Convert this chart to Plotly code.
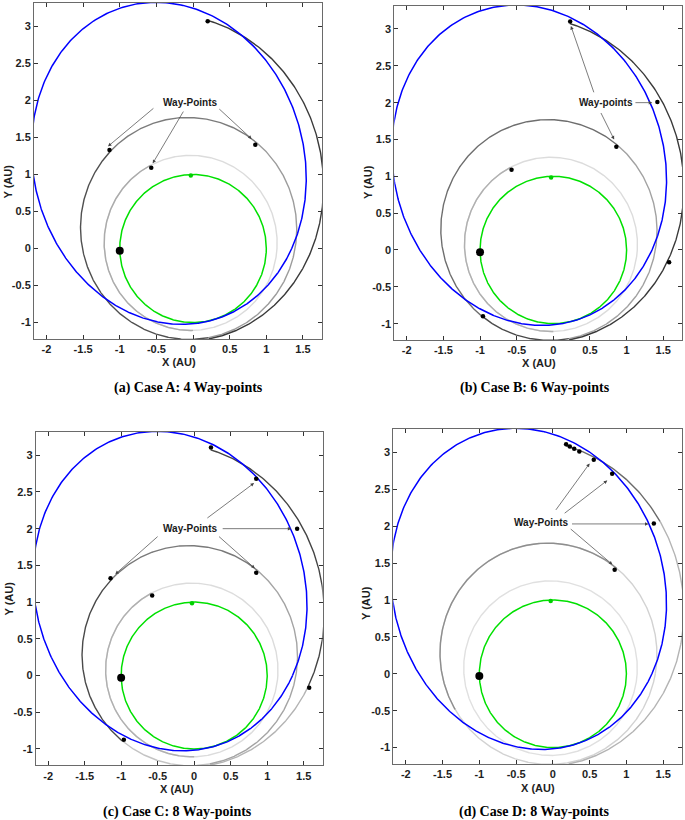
import numpy as np
import plotly.graph_objects as go

# ---------------- data ----------------
# Kepler orbits (Sun at the focus, origin): semi-major axis [AU], eccentricity, perihelion angle [deg]
ORBIT_NAMES = ["earth", "target", "r1", "r2", "r3"]
ORBIT_A = [1.0, 2.20, 1.183, 1.50, 2.215]
ORBIT_E = [0.0, 0.544, 0.07, 0.185, 0.44]
ORBIT_W = [0.0, -74.0, -67.0, -77.5, -77.0]

# trajectory arcs per case: orbit, polar angle from / to [deg]
ARC_ORBIT_A = ["r1", "r1", "r2", "r2", "r2", "r3"]
ARC_FROM_A = [0, 117.6, -80, 58.7, 130.8, -80]
ARC_TO_A = [360, 270, 58.7, 130.8, 280, 86.3]

ARC_ORBIT_B = ["r1", "r1", "r2", "r2", "r2", "r3"]
ARC_FROM_B = [0, 117.6, -80, 58.7, 222.2, -80]
ARC_TO_B = [360, 270, 58.7, 222.2, 280, 85.8]

ARC_ORBIT_C = ["r1", "r1", "r2", "r2", "r2", "r2", "r3", "r3"]
ARC_FROM_C = [0, 117.6, -80, 58.7, 130.8, 222.2, -80, -5.8]
ARC_TO_C = [360, 270, 58.7, 130.8, 222.2, 280, -5.8, 85.8]

ARC_ORBIT_D = ["r1", "r2", "r2", "r3", "r3"]
ARC_FROM_D = [0, 0, 58.7, -80, 54.8]
ARC_TO_D = [360, 360, 200, 54.8, 86.7]

# way-points (x, y in AU)
WP_A_X = [-0.57, 0.85, -1.14, 0.20]
WP_A_Y = [1.09, 1.40, 1.33, 3.07]
WP_B_X = [-0.57, 0.86, 1.42, 0.23, -0.96, 1.58]
WP_B_Y = [1.09, 1.40, 2.01, 3.10, -0.90, -0.165]
WP_C_X = [0.23, 0.85, 1.41, 0.85, -1.145, -0.575, -0.963, 1.575]
WP_C_Y = [3.105, 2.68, 2.00, 1.40, 1.325, 1.09, -0.874, -0.165]
WP_D_X = [0.18, 0.23, 0.29, 0.36, 0.556, 0.806, 1.373, 0.84]
WP_D_Y = [3.108, 3.08, 3.05, 3.01, 2.90, 2.71, 2.035, 1.41]

# departure (Earth) and Earth at arrival
DEPART_X, DEPART_Y = -1.0, -0.03
EARTH_ARR_X, EARTH_ARR_Y = -0.03, 0.985

# "Way-Points" labels and arrows (tail -> head)
LABEL_TEXT = ["Way-Points", "Way-points", "Way-Points", "Way-Points"]
LABEL_X = [-0.04, 0.72, -0.053, -0.15]
LABEL_Y = [1.97, 2.005, 2.00, 2.05]
ARROWS_A = [(-0.52, 1.91, -1.16, 1.38), (-0.12, 1.87, -0.55, 1.15), (0.33, 1.91, 0.80, 1.48)]
ARROWS_B = [(1.10, 2.0, 1.35, 2.0), (0.56, 2.12, 0.24, 3.04), (0.64, 1.88, 0.83, 1.50)]
ARROWS_C = [(0.16, 2.13, 0.82, 2.62), (0.37, 2.0, 1.33, 2.0), (0.32, 1.91, 0.83, 1.46),
            (-0.48, 1.91, -1.08, 1.38)]
ARROWS_D = [(0.026, 2.2, 0.50, 2.85), (0.14, 2.16, 0.74, 2.62), (0.24, 2.03, 1.30, 2.03),
            (0.22, 1.98, 0.81, 1.48)]

CAPTIONS = ["(a) Case A: 4 Way-points", "(b) Case B: 6 Way-points",
            "(c) Case C: 8 Way-points", "(d) Case D: 8 Way-points"]

X_TICKS = [-2, -1.5, -1, -0.5, 0, 0.5, 1, 1.5]
Y_TICKS = [-1, -0.5, 0, 0.5, 1, 1.5, 2, 2.5, 3]

# ---------------- styles ----------------
SHADES_A = ["#dcdcdc", "#ababab", "#9c9c9c", "#7c7c7c", "#505050", "#3a3a3a"]
SHADES_B = ["#dcdcdc", "#b0b0b0", "#a2a2a2", "#6e6e6e", "#4a4a4a", "#3a3a3a"]
SHADES_C = ["#dcdcdc", "#b0b0b0", "#a4a4a4", "#7a7a7a", "#4a4a4a", "#c4c4c4", "#b4b4b4", "#454545"]
SHADES_D = ["#e0e0e0", "#d2d2d2", "#8e8e8e", "#b4b4b4", "#6a6a6a"]

W_PX, H_PX = 685, 820
PANEL_BOX = [  # left, right, top, bottom in px
    (34.0, 322.0, 3.0, 339.0),
    (394.3, 682.3, 5.7, 340.0),
    (35.7, 322.7, 432.0, 765.3),
    (393.3, 682.3, 429.0, 764.0),
]
X_RANGE = [-2.17, 1.76]
Y_RANGE = [-1.222, 3.316]

orbit = {n: (a, e, w) for n, a, e, w in zip(ORBIT_NAMES, ORBIT_A, ORBIT_E, ORBIT_W)}


def conic(name, t0, t1):
    a, e, w = orbit[name]
    n = max(int(abs(t1 - t0) * 2) + 2, 10)
    th = np.radians(np.linspace(t0, t1, n))
    r = a * (1 - e ** 2) / (1 + e * np.cos(th - np.radians(w)))
    return r * np.cos(th), r * np.sin(th)


panels = [
    (ARC_ORBIT_A, ARC_FROM_A, ARC_TO_A, SHADES_A, WP_A_X, WP_A_Y, ARROWS_A),
    (ARC_ORBIT_B, ARC_FROM_B, ARC_TO_B, SHADES_B, WP_B_X, WP_B_Y, ARROWS_B),
    (ARC_ORBIT_C, ARC_FROM_C, ARC_TO_C, SHADES_C, WP_C_X, WP_C_Y, ARROWS_C),
    (ARC_ORBIT_D, ARC_FROM_D, ARC_TO_D, SHADES_D, WP_D_X, WP_D_Y, ARROWS_D),
]

fig = go.Figure()
annotations = []
layout = {}

for i, (orbs, t0s, t1s, shades, wx, wy, arrows) in enumerate(panels):
    sfx = "" if i == 0 else str(i + 1)
    xa, ya = "x" + sfx, "y" + sfx
    order = sorted(range(len(orbs)), key=lambda k: -int(shades[k][1:3], 16))
    for k in order:
        x, y = conic(orbs[k], t0s[k], t1s[k])
        fig.add_trace(go.Scatter(x=x, y=y, mode="lines", xaxis=xa, yaxis=ya,
                                 line=dict(color=shades[k], width=1.4), hoverinfo="skip"))
    x, y = conic("earth", 0, 360)
    fig.add_trace(go.Scatter(x=x, y=y, mode="lines", xaxis=xa, yaxis=ya,
                             line=dict(color="#00e000", width=1.5), hoverinfo="skip"))
    x, y = conic("target", 0, 360)
    fig.add_trace(go.Scatter(x=x, y=y, mode="lines", xaxis=xa, yaxis=ya,
                             line=dict(color="#0000ff", width=1.5), hoverinfo="skip"))
    fig.add_trace(go.Scatter(x=[EARTH_ARR_X], y=[EARTH_ARR_Y], mode="markers", xaxis=xa, yaxis=ya,
                             marker=dict(color="#00d000", size=4.5), hoverinfo="skip"))
    fig.add_trace(go.Scatter(x=wx, y=wy, mode="markers", xaxis=xa, yaxis=ya,
                             marker=dict(color="black", size=4.5), hoverinfo="skip"))
    fig.add_trace(go.Scatter(x=[DEPART_X], y=[DEPART_Y], mode="markers", xaxis=xa, yaxis=ya,
                             marker=dict(color="black", size=8), hoverinfo="skip"))

    l, r, t, b = PANEL_BOX[i]
    common = dict(showline=True, linecolor="#6a6a6a", linewidth=1, mirror="allticks",
                  ticks="inside", ticklen=4, tickcolor="#333", showgrid=False, zeroline=False,
                  tickfont=dict(family="Liberation Sans, Arial", size=11, color="#1e1e1e", weight="bold"))
    layout["xaxis" + sfx] = dict(domain=[l / W_PX, r / W_PX], range=X_RANGE, anchor=ya,
                                 tickvals=X_TICKS, ticktext=[f"{v:g}" for v in X_TICKS], **common)
    layout["yaxis" + sfx] = dict(domain=[1 - b / H_PX, 1 - t / H_PX], range=Y_RANGE, anchor=xa,
                                 tickvals=Y_TICKS, ticktext=[f"{v:g}" for v in Y_TICKS], **common)

    for (tx, ty, hx, hy) in arrows:
        annotations.append(dict(x=hx, y=hy, ax=tx, ay=ty, xref=xa, yref=ya, axref=xa, ayref=ya,
                                text="", showarrow=True, arrowhead=2, arrowsize=1,
                                arrowwidth=0.7, arrowcolor="#444"))
    annotations.append(dict(x=LABEL_X[i], y=LABEL_Y[i], xref=xa, yref=ya, text=LABEL_TEXT[i],
                            showarrow=False, bgcolor="white", xanchor="center", yanchor="middle",
                            font=dict(family="Liberation Sans, Arial", size=10, color="#1a1a1a",
                                      weight="bold")))

XT_POS = [(179, 362), (539, 363), (177, 789), (538, 788)]
YT_POS = [(7.5, 182), (368, 182), (8.5, 599), (366, 603)]
CAP_POS = [(188, 388), (535, 388), (177, 812), (534, 812)]
for i in range(4):
    px, py = XT_POS[i]
    annotations.append(dict(x=px / W_PX, y=1 - py / H_PX, xref="paper", yref="paper", text="X (AU)",
                            showarrow=False, xanchor="center", yanchor="middle",
                            font=dict(family="Liberation Sans, Arial", size=11,
                                      color="#1e1e1e", weight="bold")))
    px, py = YT_POS[i]
    annotations.append(dict(x=px / W_PX, y=1 - py / H_PX, xref="paper", yref="paper", text="Y (AU)",
                            showarrow=False, textangle=-90, xanchor="center", yanchor="middle",
                            font=dict(family="Liberation Sans, Arial", size=11,
                                      color="#1e1e1e", weight="bold")))
    px, py = CAP_POS[i]
    annotations.append(dict(x=px / W_PX, y=1 - py / H_PX, xref="paper", yref="paper", text=CAPTIONS[i],
                            showarrow=False, xanchor="center", yanchor="middle",
                            font=dict(family="Liberation Serif, Times New Roman",
                                      size=14, color="black", weight="bold")))

fig.update_layout(width=W_PX, height=H_PX, margin=dict(l=0, r=0, t=0, b=0),
                  paper_bgcolor="white", plot_bgcolor="white", showlegend=False,
                  annotations=annotations, **layout)
fig.write_html("out.html", config={"displayModeBar": False},
               post_script="document.body.style.margin='0';document.body.style.padding='0';")
